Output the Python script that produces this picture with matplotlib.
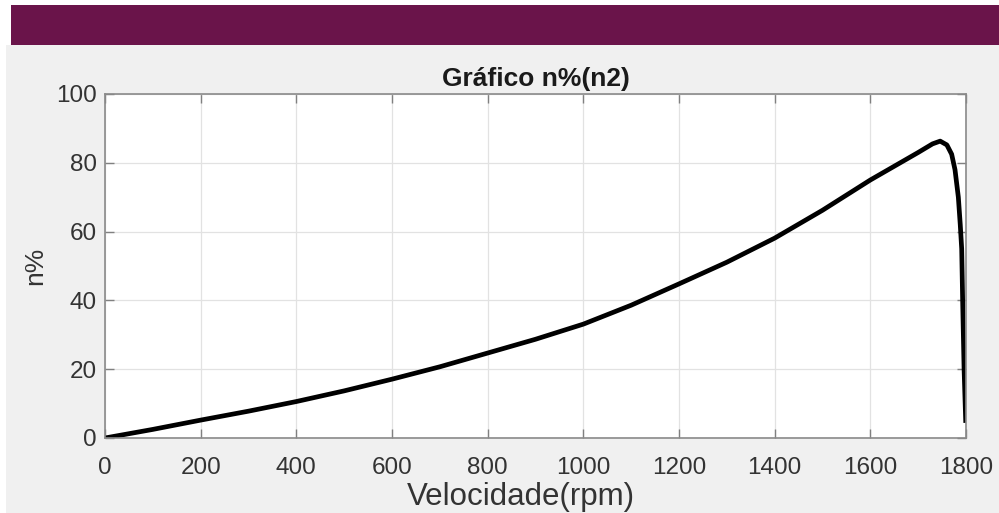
import matplotlib
matplotlib.use("Agg")
import matplotlib.pyplot as plt
from matplotlib.patches import Rectangle

# values
velocidade = [0, 100, 200, 300, 400, 500, 600, 700, 800, 900, 1000, 1100,
              1200, 1300, 1400, 1500, 1600, 1650, 1700, 1730, 1746, 1760,
              1770, 1777, 1784, 1788, 1791, 1793, 1796, 1799.5]
rendimento = [0, 2.5, 5.2, 7.8, 10.6, 13.7, 17.1, 20.7, 24.7, 28.7, 33.1, 38.6,
              44.8, 51.1, 58.1, 66.2, 75.0, 79.0, 83.0, 85.5, 86.3, 85.2,
              82.5, 78.0, 70.0, 62.0, 55.0, 40.0, 20.0, 4.4]
xticks = list(range(0, 1801, 200))
yticks = list(range(0, 101, 20))

plt.rcParams['font.family'] = ['Liberation Sans', 'DejaVu Sans']

fig = plt.figure(figsize=(9.99, 5.13), dpi=100, facecolor='white')
# gray panel and purple banner (behind the axes)
fig.add_artist(Rectangle((6 / 999, 0), 1, 1 - 45 / 513, transform=fig.transFigure,
                         facecolor='#f0f0f0', edgecolor='none', zorder=-5))
fig.add_artist(Rectangle((11 / 999, 1 - 45 / 513), 1, 40 / 513, transform=fig.transFigure,
                         facecolor='#6a144a', edgecolor='none', zorder=-5))

ax = fig.add_axes([105 / 999, 1 - 438 / 513, (966 - 105) / 999, (438 - 94) / 513])
ax.set_facecolor('white')
ax.plot(velocidade, rendimento, color='black', linewidth=3.4, solid_capstyle='butt')

ax.set_xlim(0, 1800)
ax.set_ylim(0, 100)
ax.set_xticks(xticks)
ax.set_yticks(yticks)
ax.grid(True, color='#e2e2e2', linewidth=0.9)
ax.set_axisbelow(True)
ax.tick_params(direction='in', length=6.5, width=1, colors='#808080',
               labelcolor='#333333', labelsize=17.5, top=True, right=True)
ax.tick_params(axis='x', pad=14)
ax.tick_params(axis='y', pad=6)
for s in ax.spines.values():
    s.set_color('#8a8a8a')
    s.set_linewidth(1.2)

ax.set_title('Gráfico n%(n2)', fontsize=19, fontweight='bold', color='#1a1a1a', pad=6)
ax.set_xlabel('Velocidade(rpm)', fontsize=22.5, color='#333333', labelpad=1.5)
ax.xaxis.label.set_x(0.5 - 15 / 861)
ax.set_ylabel('n%', fontsize=19, color='#333333', labelpad=6)

fig.savefig('out.png', dpi=100, facecolor=fig.get_facecolor())
